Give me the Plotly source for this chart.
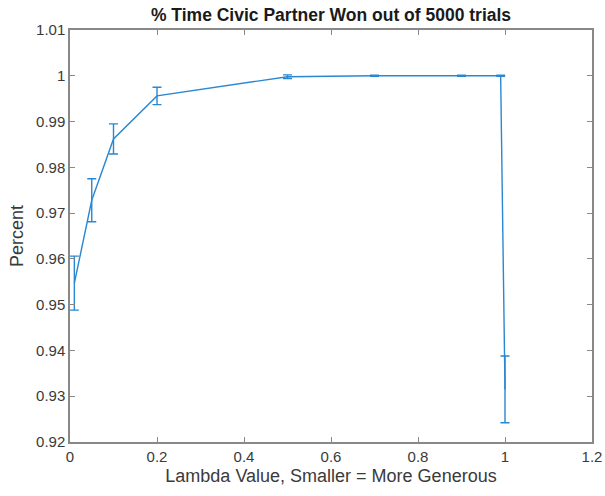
import plotly.graph_objects as go

# Lambda values tested and the win rate of the civic partner
lambda_vals = [0.01, 0.05, 0.1, 0.2, 0.5, 0.7, 0.9, 0.99, 1.0]
win_rate = [0.9547, 0.9728, 0.9862, 0.9956, 0.9998, 1.0, 1.0, 1.0, 0.9315]
err = [0.0059, 0.0047, 0.0033, 0.0019, 0.0004, 0.0001, 0.0001, 0.0001, 0.0073]

x_ticks = [0, 0.2, 0.4, 0.6, 0.8, 1.0, 1.2]
x_labels = ["0", "0.2", "0.4", "0.6", "0.8", "1", "1.2"]
y_ticks = [0.92, 0.93, 0.94, 0.95, 0.96, 0.97, 0.98, 0.99, 1.0, 1.01]
y_labels = ["0.92", "0.93", "0.94", "0.95", "0.96", "0.97", "0.98", "0.99", "1", "1.01"]

line_color = "#2a87d1"
axis_color = "#888888"
text_color = "#3a3a3a"
font = "Liberation Sans, Arial, sans-serif"

fig = go.Figure(
    go.Scatter(
        x=lambda_vals,
        y=win_rate,
        mode="lines",
        line=dict(color=line_color, width=1.4),
        error_y=dict(type="data", array=err, visible=True,
                     color=line_color, thickness=1.4, width=4.5),
        showlegend=False,
    )
)

axis_common = dict(
    showline=True, linecolor=axis_color, linewidth=1.5, mirror="ticks",
    ticks="inside", ticklen=5, tickcolor=axis_color, tickwidth=1.2,
    showgrid=False, zeroline=False, automargin=False,
    tickfont=dict(family=font, size=15, color=text_color),
)

fig.update_layout(
    width=605, height=496,
    margin=dict(l=70, r=13, t=30, b=54),
    paper_bgcolor="white", plot_bgcolor="white",
    title=dict(text="<b>% Time Civic Partner Won out of 5000 trials</b>",
               xref="paper", x=0.5, xanchor="center", y=0.97, yanchor="middle",
               font=dict(family=font, size=17.5, color="#1a1a1a")),
    xaxis=dict(range=[0, 1.2], tickvals=x_ticks, ticktext=x_labels,
               title=dict(text="Lambda Value, Smaller = More Generous", standoff=6,
                          font=dict(family=font, size=18, color=text_color)),
               **axis_common),
    yaxis=dict(range=[0.92, 1.01], tickvals=y_ticks, ticktext=y_labels,
               title=dict(text="Percent", standoff=8,
                          font=dict(family=font, size=18, color=text_color)),
               **axis_common),
)

fig.write_html("out.html")
